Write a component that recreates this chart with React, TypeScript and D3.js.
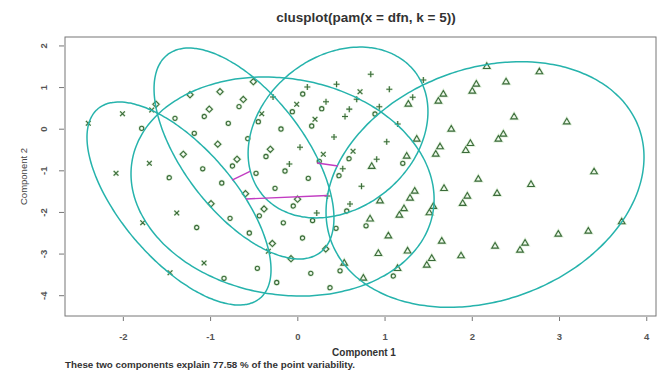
import React from 'react';
import * as d3 from 'd3';

const W = 659;
const H = 370;

const xDomain: [number, number] = [-2.669, 4.106];
const yDomain: [number, number] = [-4.488, 2.215];
const xTicks = [-2, -1, 0, 1, 2, 3, 4];
const yTicks = [-4, -3, -2, -1, 0, 1, 2];

const titleText = 'clusplot(pam(x = dfn, k = 5))';
const xLabel = 'Component 1';
const yLabel = 'Component 2';
const footerText = 'These two components explain 77.58 % of the point variability.';

// cluster points (component 1, component 2)
const circlePts: [number, number][] = [
  [-1.79, 0.02], [-1.408, 0.262], [-1.072, 0.305], [-0.674, 0.541], [-0.797, 0.142],
  [-1.187, -0.099], [-0.453, 0.18], [-0.193, 0.005], [0.056, 0.846], [-0.063, 0.42],
  [0.274, 0.493], [0.159, 0.077], [-0.574, -0.228], [-0.365, -0.656], [-0.749, -0.884],
  [-1.09, -0.951], [-1.474, -1.165], [-0.872, -1.293], [-0.479, -1.06], [-0.261, -1.42],
  [-0.147, -1.004], [0.12, -1.18], [-0.052, -1.845], [-0.441, -2.081], [-0.777, -2.141],
  [-1.159, -2.362], [-0.166, -2.249], [-0.556, -2.494], [0.054, -2.614], [-0.846, -3.582],
  [-0.464, -3.342], [-0.242, -3.683], [0.149, -3.462], [0.484, -3.402], [0.369, -3.808],
  [0.169, -2.194], [0.561, -1.965], [0.438, -2.381], [0.782, -2.321], [1.095, -3.527],
  [0.246, -0.771], [0.587, -0.709], [0.472, -1.117], [0.885, 0.365], [1.203, -0.819],
];

const trianglePts: [number, number][] = [
  [2.166, 1.511], [2.769, 1.382], [2.387, 1.141], [2.046, 1.086], [2.0, 0.918],
  [1.668, 0.846], [1.611, 0.678], [1.267, 0.605], [2.479, 0.3], [3.083, 0.18],
  [1.759, 0.005], [2.356, -0.115], [2.299, -0.235], [1.363, -0.235], [1.978, -0.339],
  [1.925, -0.507], [1.63, -0.42], [1.581, -0.596], [1.248, -0.644], [0.847, -0.891],
  [3.396, -1.021], [2.069, -1.197], [2.673, -1.324], [1.676, -1.42], [1.34, -1.485],
  [1.286, -1.653], [2.284, -1.54], [1.943, -1.605], [1.89, -1.78], [0.942, -1.72],
  [1.217, -1.905], [1.164, -2.061], [1.553, -1.852], [1.508, -2.006], [0.828, -2.153],
  [3.713, -2.222], [2.986, -2.518], [3.33, -2.446], [1.038, -2.561], [1.65, -2.686],
  [2.261, -2.806], [2.605, -2.734], [2.547, -2.902], [1.258, -2.922], [0.923, -2.982],
  [1.871, -3.039], [1.535, -3.102], [1.478, -3.263], [0.532, -3.215], [0.751, -3.575],
  [1.143, -3.342],
];

const plusPts: [number, number][] = [
  [0.836, 1.319], [0.444, 1.081], [1.049, 0.959], [0.109, 1.014], [-0.284, 0.774],
  [0.323, 0.661], [0.59, 0.481], [0.675, 0.718], [0.541, 0.305], [0.934, 0.541],
  [1.145, 0.125], [1.439, 1.182], [1.317, 0.766], [0.415, -0.187], [1.019, -0.3],
  [0.025, -0.435], [-0.097, -0.836], [0.515, -0.949], [0.904, -0.723], [0.73, -1.372],
  [0.34, -1.605], [0.217, -2.013], [0.598, -1.797],
];

const crossPts: [number, number][] = [
  [-2.402, 0.142], [-2.01, 0.372], [-1.675, 0.461], [-1.702, -0.819], [-2.084, -1.06],
  [-1.388, -2.013], [-1.778, -2.247], [-1.075, -3.215], [-1.465, -3.448], [-0.338, -2.934],
  [0.713, 0.901], [-0.013, 0.598], [-0.414, 0.372], [0.197, 0.238], [0.292, -0.603],
  [0.633, -0.529],
];

const diamondPts: [number, number][] = [
  [-1.626, 0.598], [-1.236, 0.829], [-0.892, 0.901], [-1.015, 0.481], [-0.625, 0.714],
  [-0.51, 1.141], [-0.315, -0.483], [-0.918, -0.36], [-1.313, -0.603], [-0.697, -0.723],
  [-0.6, -1.55], [-0.003, -1.682], [-0.387, -1.917], [-0.995, -1.79], [-0.292, -2.746],
  [-0.078, -3.111], [0.32, -2.878],
];

// cluster ellipses: center and two conjugate semi-axis vectors (data units)
const ellipseCenters: [number, number][] = [
  [-1.362, -1.785], [-0.617, -0.584], [-0.175, -1.377], [0.461, -0.079], [2.146, -1.329],
];
const ellipseAxisA: [number, number][] = [
  [0.932, -2.271], [0.876, -2.376], [1.725, -0.612], [0.873, 1.482], [1.763, 1.367],
];
const ellipseAxisB: [number, number][] = [
  [-0.494, -0.89], [-0.544, -0.882], [-0.206, -2.559], [0.548, -1.419], [0.462, -2.614],
];

// distance segments between clusters
const distanceSegments: [number, number, number, number][] = [
  [-0.754, -1.221, -0.548, -1.016],
  [-0.594, -1.677, 0.34, -1.593],
  [0.22, -0.812, 0.461, -0.884],
];

const FONT = "'Liberation Sans', Arial, Helvetica, sans-serif";
const PT_COLOR = '#3b6b3a';
const HALO = '#cfe8c8';

function symbolPath(kind: string, px: number, py: number): string {
  if (kind === 'circle') {
    const r = 2.1;
    return `M${px - r},${py}a${r},${r} 0 1,0 ${2 * r},0a${r},${r} 0 1,0 ${-2 * r},0Z`;
  }
  if (kind === 'triangle') {
    const h = 5.6, w = 3.3;
    return `M${px},${py - h * 0.62}L${px + w},${py + h * 0.38}L${px - w},${py + h * 0.38}Z`;
  }
  if (kind === 'plus') {
    const r = 3.0;
    return `M${px - r},${py}L${px + r},${py}M${px},${py - r}L${px},${py + r}`;
  }
  if (kind === 'cross') {
    const r = 2.4;
    return `M${px - r},${py - r}L${px + r},${py + r}M${px - r},${py + r}L${px + r},${py - r}`;
  }
  const r = 3.1;
  return `M${px},${py - r}L${px + r},${py}L${px},${py + r}L${px - r},${py}Z`;
}

export default function App() {
  const x = d3.scaleLinear().domain(xDomain).range([65, 656]);
  const y = d3.scaleLinear().domain(yDomain).range([316, 37]);

  const angles = d3.range(0, 360, 2).map((d) => (d * Math.PI) / 180);
  const ellipsePaths = ellipseCenters.map((c, i) => {
    const A = ellipseAxisA[i];
    const B = ellipseAxisB[i];
    const line = d3
      .line<number>()
      .x((t) => x(c[0] + A[0] * Math.cos(t) + B[0] * Math.sin(t)))
      .y((t) => y(c[1] + A[1] * Math.cos(t) + B[1] * Math.sin(t)))
      .curve(d3.curveCardinalClosed);
    return line(angles) || '';
  });

  const groups: [string, [number, number][]][] = [
    ['circle', circlePts],
    ['triangle', trianglePts],
    ['plus', plusPts],
    ['cross', crossPts],
    ['diamond', diamondPts],
  ];
  const symPaths: string[] = [];
  groups.forEach(([kind, pts]) => {
    pts.forEach((p) => symPaths.push(symbolPath(kind, x(p[0]), y(p[1]))));
  });
  const allSym = symPaths.join('');

  const [x0, x1] = x.range();
  const [yb, yt] = y.range();

  return (
    <svg
      width={W}
      height={H}
      viewBox={`0 0 ${W} ${H}`}
      style={{ position: 'absolute', left: 0, top: 0, background: '#fff' }}
      fontFamily={FONT}
    >
      <rect x={0} y={0} width={W} height={H} fill="#fff" />
      <text x={366} y={22} textAnchor="middle" fontSize={13.5} fontWeight="bold" fill="#333">
        {titleText}
      </text>

      {/* plot box */}
      <rect x={x0} y={yt} width={x1 - x0} height={yb - yt} fill="none" stroke="#777" strokeWidth={1} />

      {/* x axis ticks */}
      {xTicks.map((t) => (
        <g key={'xt' + t}>
          <line x1={x(t)} x2={x(t)} y1={yb + 1} y2={yb + 5} stroke="#777" strokeWidth={1} />
          <text x={x(t)} y={340} textAnchor="middle" fontSize={9.5} fontWeight="bold" fill="#555">
            {t < 0 ? '-' + Math.abs(t) : String(t)}
          </text>
        </g>
      ))}

      {/* y axis ticks */}
      {yTicks.map((t) => (
        <g key={'yt' + t}>
          <line x1={x0 - 1} x2={x0 - 6} y1={y(t)} y2={y(t)} stroke="#777" strokeWidth={1} />
          <text
            transform={`translate(47,${y(t)}) rotate(-90)`}
            textAnchor="middle"
            fontSize={9.5}
            fontWeight="bold"
            fill="#555"
          >
            {t < 0 ? '-' + Math.abs(t) : String(t)}
          </text>
        </g>
      ))}

      <text x={364} y={356} textAnchor="middle" fontSize={10} fontWeight="bold" fill="#333">
        {xLabel}
      </text>
      <text
        transform={`translate(27,${(yb + yt) / 2}) rotate(-90)`}
        textAnchor="middle"
        fontSize={9.5}
        fill="#444"
      >
        {yLabel}
      </text>
      <text x={65} y={368} fontSize={9} fontWeight="bold" fill="#333" textLength={290} lengthAdjust="spacingAndGlyphs">
        {footerText}
      </text>

      {/* points */}
      <path d={allSym} fill="none" stroke={HALO} strokeWidth={2.6} opacity={0.7} />
      <path d={allSym} fill="none" stroke={PT_COLOR} strokeWidth={1.1} />

      {/* ellipses */}
      {ellipsePaths.map((d, i) => (
        <path key={'el' + i} d={d} fill="none" stroke="#26b3ac" strokeWidth={1.5} />
      ))}

      {/* distance segments */}
      {distanceSegments.map((s, i) => (
        <line
          key={'seg' + i}
          x1={x(s[0])}
          y1={y(s[1])}
          x2={x(s[2])}
          y2={y(s[3])}
          stroke="#c23cc2"
          strokeWidth={1.4}
        />
      ))}
    </svg>
  );
}
